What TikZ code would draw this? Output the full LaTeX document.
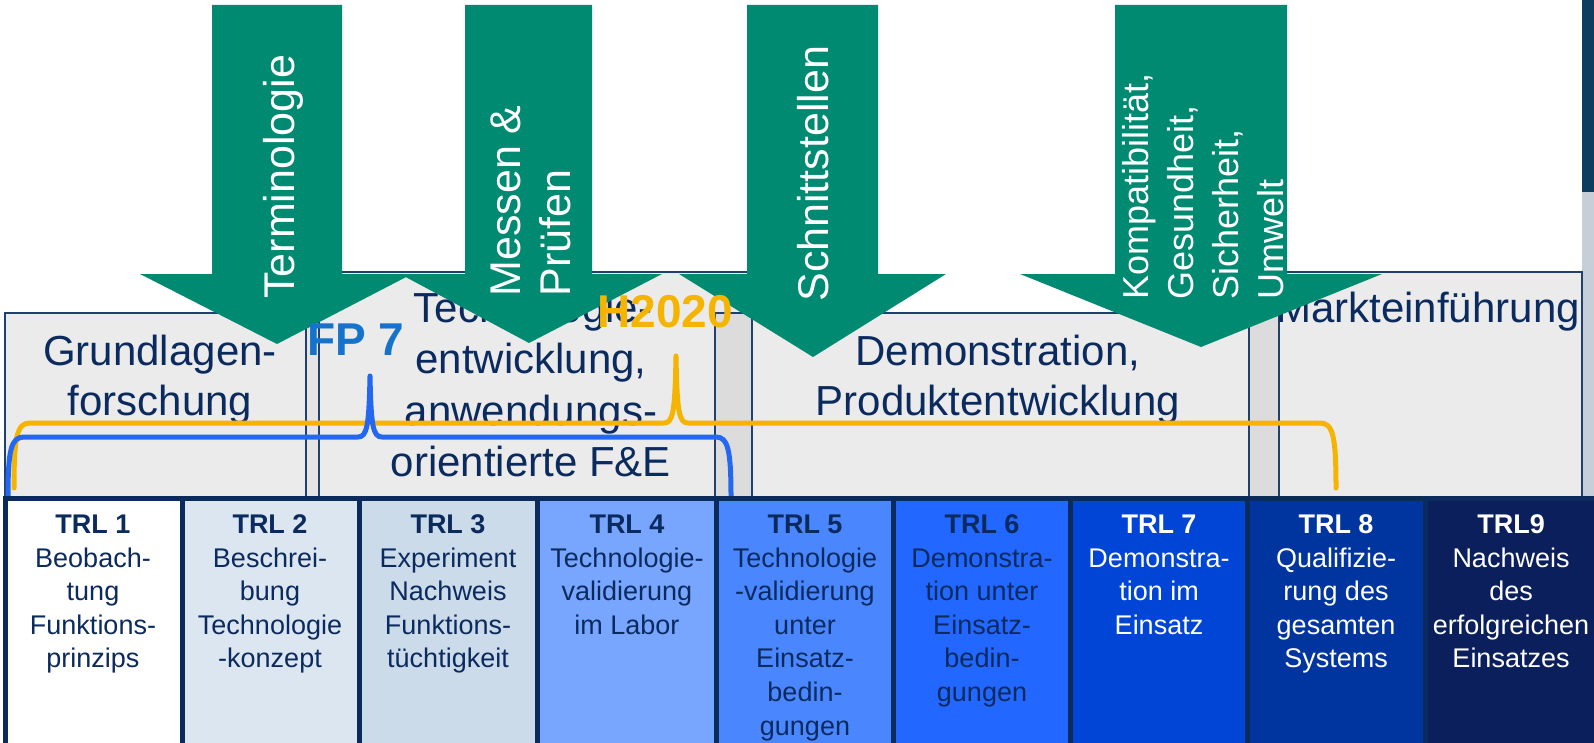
\documentclass[tikz,border=0pt]{standalone}
\usepackage{fontspec}
\setmainfont{Liberation Sans}
\definecolor{arrowgreen}{HTML}{008A72}
\definecolor{navytext}{HTML}{0B2A5E}
\definecolor{boxline}{HTML}{22406C}
\definecolor{boxgray}{HTML}{EBEBEB}
\definecolor{stripgray}{HTML}{DCDCDC}
\definecolor{navyline}{HTML}{0A2B5C}
\definecolor{fpblue}{HTML}{1673CC}
\definecolor{braceblue}{HTML}{2468F2}
\definecolor{hcol}{HTML}{F5B400}
\definecolor{rightnavy}{HTML}{0E3C5F}
\definecolor{rightgray}{HTML}{C6CEDA}
\definecolor{trlA}{HTML}{FFFFFF}
\definecolor{trlB}{HTML}{DCE6F0}
\definecolor{trlC}{HTML}{CCDBEA}
\definecolor{trlD}{HTML}{78A6FF}
\definecolor{trlE}{HTML}{4A87FF}
\definecolor{trlF}{HTML}{2267FF}
\definecolor{trlG}{HTML}{0045D6}
\definecolor{trlH}{HTML}{00349F}
\definecolor{trlI}{HTML}{0B1F5C}
\begin{document}
\begin{tikzpicture}[x=0.5pt,y=-0.5pt,
  graybox/.style={fill=boxgray,draw=boxline,line width=0.7pt},
  stripbox/.style={fill=stripgray,draw=boxline,line width=0.7pt},
  hdr/.style={font=\fontsize{21}{25}\selectfont,text=navytext,inner sep=0pt,anchor=base},
  arrtxt/.style={text=white,rotate=90,anchor=base west,inner sep=0pt,font=\fontsize{21.5}{24}\selectfont},
  arrtxtsmall/.style={text=white,rotate=90,anchor=base west,inner sep=0pt,font=\fontsize{18}{20}\selectfont},
  trltxt/.style={font=\fontsize{13.5}{16.8}\selectfont,align=center,anchor=north,inner sep=0pt},
  colsep/.style={draw=navyline,line width=2.5pt},
  bracepath/.style={line width=2.5pt,line cap=round,line join=round},
  prog/.style={font=\fontsize{23}{26}\selectfont\bfseries,inner sep=0pt,anchor=base west}
]
\useasboundingbox (0,0) rectangle (1594,743);
\fill[white] (0,0) rectangle (1594,743);
% right edge
\fill[rightnavy] (1582,0) rectangle (1594,192);
\fill[rightgray] (1582,192) rectangle (1594,498);
% phase boxes
\draw[graybox] (319,272) rectangle (752,498);
\draw[graybox] (1279,272) rectangle (1582,498);
\draw[graybox] (752,313) rectangle (1249,498);
\draw[stripbox] (715,313) rectangle (752,498);
\draw[stripbox] (1249,313) rectangle (1279,498);
\draw[graybox] (5,313) rectangle (306,498);
\draw[graybox,fill=stripgray!40!boxgray] (306,313) rectangle (319,498);
% phase texts
\node[hdr] (g1) at (160,365) {Grundlagen-};
\node[hdr] (g2) at (160,415) {forschung};
\node[hdr] (e1) at (533,322) {Technologie-};
\node[hdr] (e2) at (531,373) {entwicklung,};
\node[hdr] (e3) at (531,425) {anwendungs-};
\node[hdr] (e4) at (531,476) {orientierte F\&E};
\node[hdr] (d1) at (998,365) {Demonstration,};
\node[hdr] (d2) at (998,415) {Produktentwicklung};
\node[hdr] (m1) at (1428,322) {Markteinführung};
% braces
\draw[bracepath,hcol] (14,488) .. controls (14,436) and (17,423) .. (30,423) -- (664,423)
  .. controls (673,423) and (675,412) .. (676,356) .. controls (677,412) and (679,423) .. (688,423)
  -- (1320,423) .. controls (1333,423) and (1336,436) .. (1336,488);
\draw[bracepath,braceblue] (8,497) .. controls (8,450) and (11,437) .. (24,437) -- (358,437)
  .. controls (367,437) and (369,426) .. (370,376) .. controls (371,426) and (373,437) .. (382,437)
  -- (716,437) .. controls (728,437) and (731,450) .. (731,497);
% TRL row
\fill[trlA] (5,498) rectangle (182,743);
\fill[trlB] (182,498) rectangle (359,743);
\fill[trlC] (359,498) rectangle (537,743);
\fill[trlD] (537,498) rectangle (716,743);
\fill[trlE] (716,498) rectangle (893,743);
\fill[trlF] (893,498) rectangle (1070,743);
\fill[trlG] (1070,498) rectangle (1247,743);
\fill[trlH] (1247,498) rectangle (1425,743);
\fill[trlI] (1425,498) rectangle (1594,743);
\draw[colsep] (3,498.5) -- (1594,498.5);
\foreach \xx in {5.5,182,359,537,716,893,1070,1247,1425}
  \draw[colsep] (\xx,498) -- (\xx,743);
\node[trltxt,text=navytext] (trl1) at (93,513) {\rule{0pt}{10pt}\textbf{TRL 1}\\Beobach-\\tung\\Funktions-\\prinzips};
\node[trltxt,text=navytext] (trl2) at (270,513) {\rule{0pt}{10pt}\textbf{TRL 2}\\Beschrei-\\bung\\Technologie\\-konzept};
\node[trltxt,text=navytext] (trl3) at (448,513) {\rule{0pt}{10pt}\textbf{TRL 3}\\Experiment\\Nachweis\\Funktions-\\tüchtigkeit};
\node[trltxt,text=navytext] (trl4) at (627,513) {\rule{0pt}{10pt}\textbf{TRL 4}\\Technologie-\\validierung\\im Labor};
\node[trltxt,text=navytext] (trl5) at (805,513) {\rule{0pt}{10pt}\textbf{TRL 5}\\Technologie\\-validierung\\unter\\Einsatz-\\bedin-\\gungen};
\node[trltxt,text=navytext] (trl6) at (982,513) {\rule{0pt}{10pt}\textbf{TRL 6}\\Demonstra-\\tion unter\\Einsatz-\\bedin-\\gungen};
\node[trltxt,text=white] (trl7) at (1159,513) {\rule{0pt}{10pt}\textbf{TRL 7}\\Demonstra-\\tion im\\Einsatz};
\node[trltxt,text=white] (trl8) at (1336,513) {\rule{0pt}{10pt}\textbf{TRL 8}\\Qualifizie-\\rung des\\gesamten\\Systems};
\node[trltxt,text=white] (trl9) at (1511,513) {\rule{0pt}{10pt}\textbf{TRL9}\\Nachweis\\des\\erfolgreichen\\Einsatzes};
% green arrows
\fill[arrowgreen] (212,5) -- (342,5) -- (342,274) -- (412,274) -- (277,344) -- (140,274) -- (212,274) -- cycle;
\fill[arrowgreen] (465,5) -- (592,5) -- (592,274) -- (662,274) -- (529,343) -- (400,274) -- (465,274) -- cycle;
\fill[arrowgreen] (747,5) -- (878,5) -- (878,274) -- (946,274) -- (813,357) -- (679,274) -- (747,274) -- cycle;
\fill[arrowgreen] (1115,5) -- (1287,5) -- (1287,274) -- (1382,274) -- (1201,347) -- (1020,274) -- (1115,274) -- cycle;
\node[arrtxt] (a1) at (294,299) {Terminologie};
\node[arrtxt] (a2a) at (520,297) {Messen \&};
\node[arrtxt] (a2b) at (570,297) {Prüfen};
\node[arrtxt] (a3) at (828,302) {Schnittstellen};
\node[arrtxtsmall] (a4a) at (1148,300) {Kompatibilität,};
\node[arrtxtsmall] (a4b) at (1193,300) {Gesundheit,};
\node[arrtxtsmall] (a4c) at (1238,300) {Sicherheit,};
\node[arrtxtsmall] (a4d) at (1283,300) {Umwelt};
% programme labels
\node[prog,text=fpblue] (fp7) at (307,355) {FP 7};
\node[prog,text=hcol] (h2020) at (597,327) {H2020};
\end{tikzpicture}
\end{document}
